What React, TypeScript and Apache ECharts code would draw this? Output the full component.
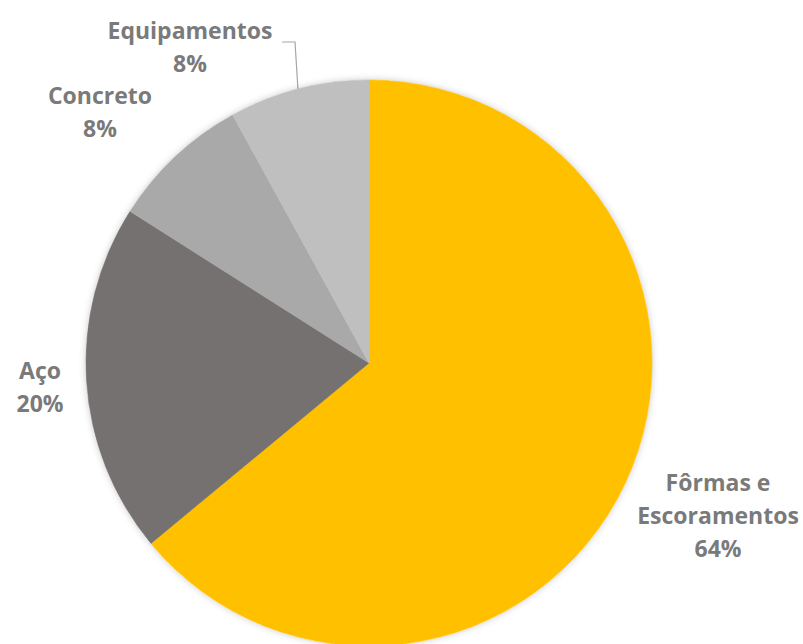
import React, { useEffect, useRef } from "react";
import * as echarts from "echarts";

const categories = ["Fôrmas e\nEscoramentos", "Aço", "Concreto", "Equipamentos"];
const values = [64, 20, 8, 8];
const colors = ["#FFC000", "#767171", "#A9A9A9", "#BFBFBF"];
// label centre positions per slice
const labelPos = [
  [718, 515],
  [40, 386],
  [100, 111],
  [190, 46],
];

export default function App() {
  const ref = useRef<HTMLDivElement>(null);
  useEffect(() => {
    document.body.style.margin = "0";
    const chart = echarts.init(ref.current!, undefined, { renderer: "svg" });
    const total = values.reduce((a, b) => a + b, 0);
    chart.setOption({
      animation: false,
      backgroundColor: "#ffffff",
      series: [
        {
          // soft backdrop glow behind the pie
          type: "pie",
          z: 1,
          center: [369, 363],
          radius: [0, 283],
          silent: true,
          data: [{ name: "bg", value: total }],
          itemStyle: {
            color: "#ffffff",
            shadowBlur: 7,
            shadowColor: "rgba(0,0,0,0.22)",
          },
          label: { show: false },
          labelLine: { show: false },
        },
        {
          type: "pie",
          z: 2,
          center: [369, 363],
          radius: [0, 283],
          startAngle: 90,
          clockwise: true,
          silent: true,
          data: categories.map((c, i) => ({
            name: c,
            value: values[i],
            itemStyle: { color: colors[i], borderColor: colors[i], borderWidth: 0.6 },
          })),
          label: {
            show: true,
            position: "outside",
            overflow: "none",
            formatter: (p: any) => `${p.name}\n${Math.round(p.percent)}%`,
            fontFamily: "Open Sans",
            fontWeight: "bold",
            fontSize: 23,
            lineHeight: 33,
            color: "#7a7a7a",
            align: "center",
          },
          labelLine: { show: false },
          labelLayout: (params: any) => {
            const p = labelPos[params.dataIndex];
            return { x: p[0], y: p[1], align: "center", verticalAlign: "middle" };
          },
        },
      ],
      graphic: [
        {
          type: "polyline",
          shape: { points: [[282, 42], [295, 42], [298, 90]] },
          style: { stroke: "#a6a6a6", lineWidth: 1.2, fill: "none" },
          silent: true,
        },
      ],
    });
    return () => chart.dispose();
  }, []);
  return <div ref={ref} style={{ width: 803, height: 644 }} />;
}
